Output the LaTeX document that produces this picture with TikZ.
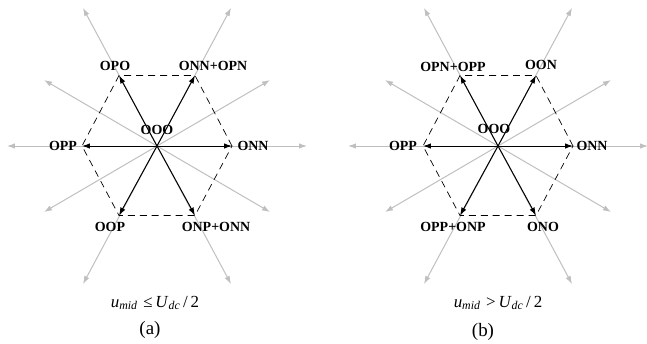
\documentclass[tikz,border=0pt]{standalone}
\usepackage{fontspec}
\setmainfont{Liberation Serif}
\usetikzlibrary{arrows.meta}

\tikzset{
  ray/.style={draw=black!25, line width=1pt, -{Latex[length=8pt,width=5.5pt]}},
  vec/.style={draw=black, line width=1pt, -{Latex[length=8pt,width=5.5pt]}},
  hexline/.style={draw=black, line width=0.7pt, dash pattern=on 7pt off 5pt},
  lbl/.style={font=\fontsize{14}{16}\selectfont\bfseries, inner sep=0pt},
  caption/.style={font=\fontsize{17}{20}\selectfont, inner sep=0pt, anchor=base}
}

\begin{document}
\begin{tikzpicture}[x=1bp, y=1bp]
  \useasboundingbox (0,0) rectangle (647,343);

  % (a) 왼쪽 그림
  \begin{scope}[shift={(157,197)}]
    \coordinate (a-o) at (0,0);
    % 회색 축
    \foreach \i/\gx/\gy in {1/150/0, 2/113/66, 3/74/138, 4/-74/138, 5/-113/66,
                             6/-150/0, 7/-113/-66, 8/-74/-138, 9/74/-138, 10/113/-66}
    {
      \coordinate (a-g\i) at (\gx,\gy);
      \draw[ray] (a-o) -- (a-g\i);
    }
    % 육각형 꼭짓점
    \foreach \i/\vx/\vy in {1/75/0, 2/38/70.5, 3/-38/70.5, 4/-75/0, 5/-38/-69.5, 6/38/-69.5}
      \coordinate (a-v\i) at (\vx,\vy);
    \draw[hexline] (a-v1) -- (a-v2) -- (a-v3) -- (a-v4) -- (a-v5) -- (a-v6) -- cycle;
    % 전압 벡터
    \foreach \i in {1,...,6}
      \draw[vec] (a-o) -- (a-v\i);
    % 라벨
    \node[lbl] (a-ooo) at (0,16)    {OOO};
    \node[lbl] (a-onn) at (96,0)    {ONN};
    \node[lbl] (a-opn) at (56,80)   {ONN+OPN};
    \node[lbl] (a-opo) at (-42,80)  {OPO};
    \node[lbl] (a-opp) at (-94,0)   {OPP};
    \node[lbl] (a-oop) at (-47,-81) {OOP};
    \node[lbl] (a-onp) at (59,-81)  {ONP+ONN};
  \end{scope}
  \node[caption] (a-cond) at (155,36)
    {\textit{u}\textsubscript{\textit{mid}}\,\,≤\,\textit{U}\textsubscript{\textit{dc}}\,/\,2};
  \node[caption, font=\fontsize{19}{22}\selectfont] (a-tag) at (150,9) {(a)};

  % (b) 오른쪽 그림
  \begin{scope}[shift={(498,197)}]
    \coordinate (b-o) at (0,0);
    % 회색 축
    \foreach \i/\gx/\gy in {1/150/0, 2/113/66, 3/74/138, 4/-74/138, 5/-113/66,
                             6/-150/0, 7/-113/-66, 8/-74/-138, 9/74/-138, 10/113/-66}
    {
      \coordinate (b-g\i) at (\gx,\gy);
      \draw[ray] (b-o) -- (b-g\i);
    }
    % 육각형 꼭짓점
    \foreach \i/\vx/\vy in {1/75/0, 2/38/70.5, 3/-38/70.5, 4/-75/0, 5/-38/-69.5, 6/38/-69.5}
      \coordinate (b-v\i) at (\vx,\vy);
    \draw[hexline] (b-v1) -- (b-v2) -- (b-v3) -- (b-v4) -- (b-v5) -- (b-v6) -- cycle;
    % 전압 벡터
    \foreach \i in {1,...,6}
      \draw[vec] (b-o) -- (b-v\i);
    % 라벨
    \node[lbl] (b-ooo) at (-4,17)     {OOO};
    \node[lbl] (b-onn) at (94,0)      {ONN};
    \node[lbl] (b-oon) at (43,81)     {OON};
    \node[lbl] (b-opn) at (-45,79)    {OPN+OPP};
    \node[lbl] (b-opp) at (-95,0)     {OPP};
    \node[lbl] (b-onp) at (-45,-81)   {OPP+ONP};
    \node[lbl] (b-ono) at (45,-81)    {ONO};
  \end{scope}
  \node[caption] (b-cond) at (498,36)
    {\textit{u}\textsubscript{\textit{mid}}\,\,>\,\textit{U}\textsubscript{\textit{dc}}\,/\,2};
  \node[caption, font=\fontsize{19}{22}\selectfont] (b-tag) at (483,7) {(b)};
\end{tikzpicture}
\end{document}
